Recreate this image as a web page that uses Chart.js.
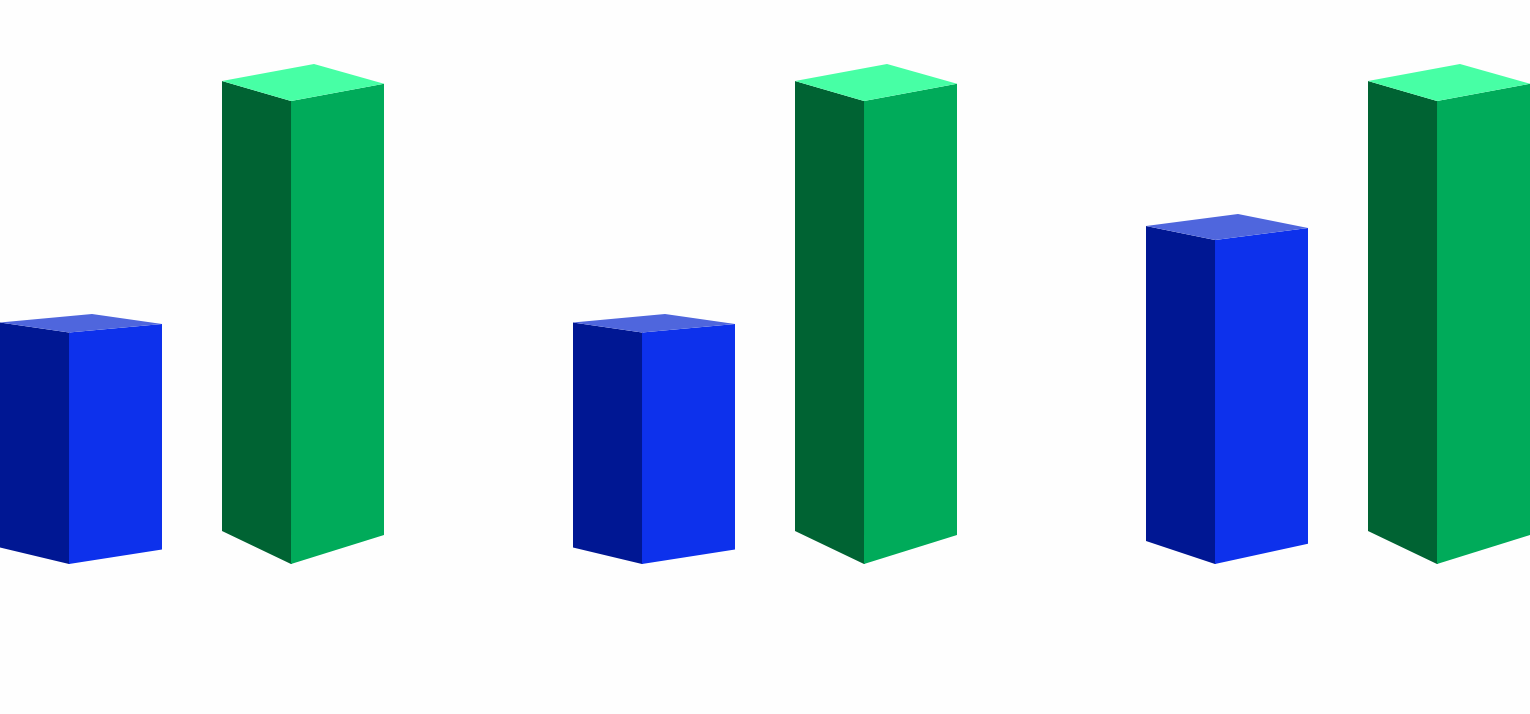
<!DOCTYPE html>
<html>
<head>
<meta charset="utf-8">
<title>3D bars</title>
<script src="https://cdn.jsdelivr.net/npm/chart.js@4"></script>
<style>
  html, body { margin: 0; padding: 0; width: 100%; height: 100%; overflow: hidden; background: #fefefe; }
  /* the first category starts left of the window, so the canvas is wider than the page */
  #wrap { position: absolute; left: -95px; top: 0; width: 1720px; height: 714px; }
</style>
</head>
<body>
<div id="wrap"><canvas id="myChart"></canvas></div>
<script>
const categories = ["A", "B", "C"];
const blueValues = [50, 50, 70];
const greenValues = [100, 100, 100];

const blueColors = { left: "#001793", right: "#0d31ec", top: "#4f66dd" };
const greenColors = { left: "#006333", right: "#00ab5a", top: "#47ffa5" };

function polygon(ctx, pts, color) {
  ctx.fillStyle = color;
  ctx.beginPath();
  pts.forEach((p, i) => (i ? ctx.lineTo(p[0], p[1]) : ctx.moveTo(p[0], p[1])));
  ctx.closePath();
  ctx.fill();
}

// Draws each bar as a box, using the position chart.js worked out for it
const box3d = {
  id: "box3d",
  afterDatasetsDraw(chart) {
    const ctx = chart.ctx;
    chart.data.datasets.forEach((ds, d) => {
      chart.getDatasetMeta(d).data.forEach(bar => {
        const h = bar.base - bar.y;
        const left = bar.x - bar.width / 2;
        const right = bar.x + bar.width / 2;
        const front = left + bar.width * 0.426;
        const back = front + bar.width * 0.142;
        const leftTop = bar.y - h * 0.043;
        const rightTop = bar.y - h * 0.037;
        const c = ds.faces;

        // the right face is painted over the left one so no seam shows
        polygon(ctx, [[left, leftTop], [front, bar.y], [front + 1, bar.y], [front + 1, bar.base], [front, bar.base], [left, bar.base - h * 0.0713]], c.left);
        polygon(ctx, [[front, bar.y], [right, rightTop], [right, bar.base - h * 0.0625], [front, bar.base]], c.right);
        polygon(ctx, [[left, leftTop], [back, bar.y - h * 0.08], [right, rightTop], [front, bar.y]], c.top);
      });
    });
  }
};

new Chart(document.getElementById("myChart"), {
  type: "bar",
  data: {
    labels: categories,
    datasets: [
      { label: "Blue", data: blueValues, backgroundColor: "transparent", faces: blueColors },
      { label: "Green", data: greenValues, backgroundColor: "transparent", faces: greenColors }
    ]
  },
  options: {
    responsive: true,
    maintainAspectRatio: false,
    animation: false,
    categoryPercentage: 444 / 573,
    barPercentage: 162 / 222,
    layout: { padding: { left: 0.5, right: 0.5, top: 101, bottom: 150 } },
    plugins: { legend: { display: false }, tooltip: { enabled: false } },
    scales: {
      x: { display: false },
      y: { display: false, min: 0, max: 100 }
    }
  },
  plugins: [box3d]
});
</script>
</body>
</html>
